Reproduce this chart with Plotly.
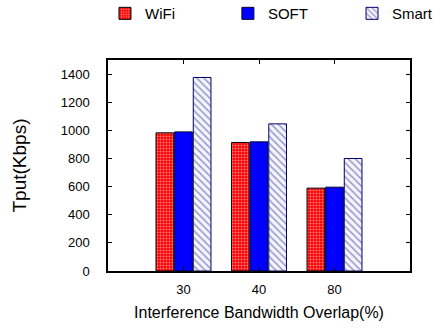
import plotly.graph_objects as go

categories = ["30", "40", "80"]
positions = [1, 2, 3]
wifi = [982, 914, 589]
soft = [989, 918, 596]
smart = [1376, 1046, 800]
y_ticks = [0, 200, 400, 600, 800, 1000, 1200, 1400]

font = "Liberation Sans, Arial, sans-serif"

fig = go.Figure()
fig.add_trace(go.Bar(
    name="WiFi", x=positions, y=wifi, legend="legend",
    marker=dict(color="#ff0000",
                line=dict(color="#000000", width=1),
                pattern=dict(shape=".", fgcolor="#ffffff", bgcolor="#ff0000",
                             size=3, solidity=0.35, fillmode="overlay")),
))
fig.add_trace(go.Bar(
    name="SOFT", x=positions, y=soft, legend="legend2",
    marker=dict(color="#0000ff", line=dict(color="#000033", width=1)),
))
fig.add_trace(go.Bar(
    name="Smart", x=positions, y=smart, legend="legend3",
    marker=dict(color="#ffffff",
                line=dict(color="#000066", width=1),
                pattern=dict(shape="\\", fgcolor="#3b3b9e", bgcolor="#f4f4fb",
                             size=5, solidity=0.3, fillmode="overlay")),
))

leg_common = dict(orientation="h", y=1.22, yanchor="middle", xanchor="left",
                  font=dict(size=15, family=font), bgcolor="rgba(0,0,0,0)")

fig.update_layout(
    width=446, height=329,
    margin=dict(l=108, r=36, t=60, b=58, autoexpand=False),
    paper_bgcolor="white", plot_bgcolor="white",
    barmode="group", bargap=0.26, bargroupgap=0.05,
    font=dict(family=font, color="#000000", size=13),
    showlegend=True,
    legend=dict(x=-0.01, **leg_common),
    legend2=dict(x=0.397, **leg_common),
    legend3=dict(x=0.808, **leg_common),
    xaxis=dict(range=[0, 4], tickvals=positions, ticktext=categories,
               showline=True, linecolor="#000000", linewidth=1.5, mirror="ticks",
               ticks="inside", ticklen=4, tickcolor="#000000",
               showgrid=False, zeroline=False,
               tickfont=dict(size=13), ticklabelstandoff=6,
               title=dict(text="Interference Bandwidth Overlap(%)", font=dict(size=16),
                          standoff=10)),
    yaxis=dict(range=[0, 1500], tickvals=y_ticks,
               showline=True, linecolor="#000000", linewidth=1.5, mirror="ticks",
               ticks="inside", ticklen=4, tickcolor="#000000",
               showgrid=False, zeroline=False,
               tickfont=dict(size=13), ticklabelstandoff=14,
               title=dict(text="Tput(Kbps)", font=dict(size=19), standoff=29)),
)

fig.write_html("out.html")
